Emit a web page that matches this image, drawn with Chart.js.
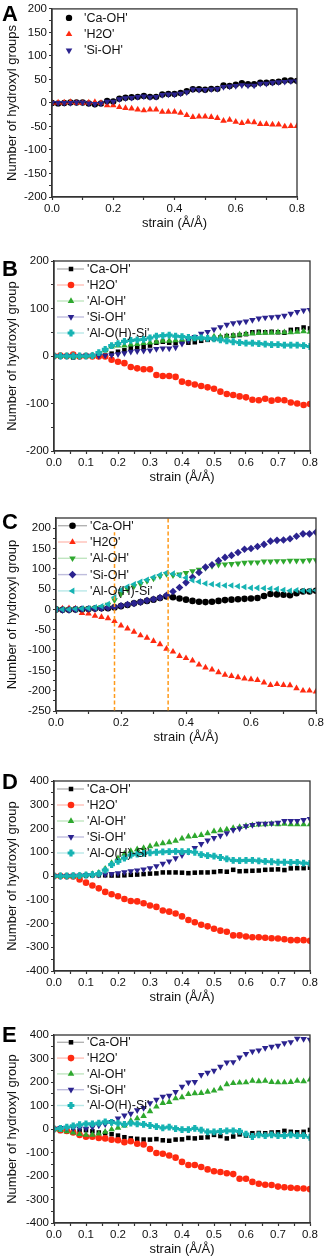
<!DOCTYPE html>
<html>
<head>
<meta charset="utf-8">
<script src="https://cdn.jsdelivr.net/npm/chart.js@4.4.0/dist/chart.umd.min.js"></script>
<style>
    body { margin: 0; width: 325px; height: 1260px; overflow: hidden; background: #fff; position: relative; font-family: "Liberation Sans", Arial, sans-serif; }
    canvas { position: absolute; left: 0; }
    .tag { position: absolute; left: 2px; font-size: 22px; line-height: 22px; font-weight: bold; color: #000; }
</style>
</head>
<body>
<canvas id="chartA" width="340" height="235" style="top:0px"></canvas>
<canvas id="chartB" width="340" height="249" style="top:240px"></canvas>
<canvas id="chartC" width="340" height="249" style="top:500px"></canvas>
<canvas id="chartD" width="340" height="249" style="top:760px"></canvas>
<canvas id="chartE" width="340" height="251" style="top:1010px"></canvas>
<div class="tag" style="top:3px">A</div>
<div class="tag" style="top:258px">B</div>
<div class="tag" style="top:511px">C</div>
<div class="tag" style="top:771px">D</div>
<div class="tag" style="top:1024px">E</div>
<script>
// Strain values (x axis), same for every panel
const strain = [0.00, 0.02, 0.04, 0.06, 0.08, 0.10, 0.12, 0.14, 0.16, 0.18,
                0.20, 0.22, 0.24, 0.26, 0.28, 0.30, 0.32, 0.34, 0.36, 0.38,
                0.40, 0.42, 0.44, 0.46, 0.48, 0.50, 0.52, 0.54, 0.56, 0.58,
                0.60, 0.62, 0.64, 0.66, 0.68, 0.70, 0.72, 0.74, 0.76, 0.78, 0.80];

// Tick labels
const xTicksWide = [0.0, 0.2, 0.4, 0.6, 0.8];
const xTicksFine = [0.0, 0.1, 0.2, 0.3, 0.4, 0.5, 0.6, 0.7, 0.8];
const yTicksA = [-200, -150, -100, -50, 0, 50, 100, 150, 200];
const yTicksB = [-200, -100, 0, 100, 200];
const yTicksC = [-250, -200, -150, -100, -50, 0, 50, 100, 150, 200];
const yTicksDE = [-400, -300, -200, -100, 0, 100, 200, 300, 400];

// Panel A
const aCaOH = [0,-1,0,1,1,1,-1,-3,-1,4, 3,9,11,12,13,15,13,13,18,19, 19,21,25,29,29,28,30,30,37,36, 39,42,40,40,43,43,44,45,48,48, 47];
const aH2O  = [0,1,1,2,0,0,1,2,0,-5, -5,-9,-11,-12,-14,-16,-14,-14,-19,-19, -19,-21,-26,-30,-29,-29,-30,-32,-38,-36, -40,-43,-40,-41,-45,-45,-46,-46,-50,-49, -49];
const aSiOH = [0,0,0,0,1,1,-1,-2,-1,3, 3,8,10,11,13,14,12,13,17,18, 18,20,23,29,28,28,29,30,34,35, 36,38,37,37,41,41,43,44,45,46, 46];

// Panel B
const bCaOH   = [0,-1,-1,-3,-1,0,0,0,1,5, 9,12,17,18,19,22,28,30,28,27, 30,28,29,32,34,36,39,42,43,44, 46,50,51,50,51,50,49,55,56,60, 58];
const bH2O    = [0,1,0,3,-1,0,-1,-1,-1,-8, -12,-15,-23,-26,-28,-28,-40,-42,-42,-44, -54,-57,-60,-63,-66,-69,-75,-80,-82,-85, -87,-92,-93,-90,-94,-92,-93,-98,-100,-103, -101];
const bAlOH   = [0,0,0,-1,0,0,1,5,12,20, 22,22,24,25,27,28,30,32,32,33, 34,35,37,38,39,41,41,42,43,45, 46,47,48,49,49,50,50,50,51,52, 51];
const bSiOH   = [0,0,0,0,0,1,1,0,1,2, 4,6,9,10,11,12,15,16,16,18, 26,33,40,47,51,56,61,66,69,71, 73,76,79,81,82,83,85,89,93,96, 97];
const bAlOHSi = [0,0,0,0,0,0,1,7,14,22, 26,31,33,34,35,38,42,43,44,42, 41,39,38,38,37,36,34,32,30,28, 27,27,26,25,24,24,23,23,23,22, 20];

// Panel C
const cCaOH   = [0,-1,-1,0,0,1,2,3,3,5, 8,11,15,18,21,24,28,32,30,27, 24,21,19,18,19,21,23,24,25,26, 27,28,33,38,37,36,35,40,44,44, 46];
const cH2O    = [0,2,3,2,-9,-10,-16,-19,-22,-29, -40,-47,-55,-64,-70,-78,-86,-97,-104,-115, -120,-126,-136,-143,-148,-155,-161,-164,-167,-170, -172,-174,-180,-186,-184,-186,-187,-194,-200,-200, -202];
const cAlOH   = [0,0,0,0,1,2,4,6,12,23, 38,50,57,63,70,76,82,87,84,86, 90,94,98,102,107,110,111,112,113,115, 116,116,118,118,119,119,120,120,120,121, 121];
const cSiOH   = [0,-1,-1,0,1,1,2,3,4,6, 9,12,15,18,22,25,29,35,44,54, 66,79,91,104,110,120,128,133,140,148, 150,155,160,168,170,171,174,180,186,186, 190];
const cAlOHSi = [0,0,0,1,2,3,5,8,13,30, 48,56,62,68,73,79,85,90,88,84, 78,72,68,64,62,60,59,59,57,55, 53,53,52,51,50,48,46,47,46,46, 47];
// Orange dashed guide lines in panel C
const cGuideX   = [0.18, 0.345];
const cGuideTop = [190, 225];
const cGuideBottom = -250;

// Panel D
const dCaOH   = [0,0,0,0,1,2,3,3,3,2, 2,3,5,6,8,10,11,15,15,15, 14,12,14,15,15,17,20,18,26,20, 21,22,23,26,27,28,25,32,33,33, 35];
const dH2O    = [0,0,-1,-2,-15,-28,-40,-52,-67,-77, -85,-97,-105,-107,-115,-124,-130,-145,-150,-158, -170,-185,-195,-205,-212,-222,-230,-235,-250,-250, -255,-258,-258,-260,-262,-263,-266,-270,-270,-270, -273];
const dAlOH   = [0,0,0,1,2,5,8,14,30,55, 75,93,105,112,118,125,132,138,142,148, 158,166,168,172,180,188,192,196,202,206, 210,214,216,218,220,218,220,218,218,217, 217];
const dSiOH   = [0,0,0,1,2,4,5,6,7,9, 12,16,20,24,28,33,42,52,62,75, 88,102,118,135,150,160,170,180,194,200, 210,215,220,220,222,225,232,232,232,236, 240];
const dAlOHSi = [0,0,0,1,2,4,6,10,25,48, 62,75,88,92,95,98,100,102,103,104, 103,103,100,90,86,84,78,72,66,65, 66,66,64,62,60,58,58,57,57,54, 53];

// Panel E
const eCaOH   = [0,-8,-9,-9,-8,-5,-10,-15,-18,-22, -28,-35,-40,-42,-45,-45,-43,-48,-50,-45, -44,-38,-40,-37,-35,-25,-30,-40,-32,-23, -28,-18,-17,-18,-15,-14,-8,-12,-14,-12, -4];
const eH2O    = [0,-5,-8,-15,-25,-33,-33,-38,-40,-46, -48,-56,-52,-63,-66,-85,-102,-105,-113,-122, -140,-153,-153,-162,-172,-180,-183,-188,-192,-212, -212,-225,-233,-237,-238,-245,-248,-250,-252,-253, -256];
const eAlOH   = [0,-5,-10,-15,-22,-25,-25,-20,-12,-2, 5,15,35,45,55,75,95,110,115,130, 135,148,152,153,158,163,172,190,195,197, 198,205,203,205,200,198,198,200,205,203, 210];
const eSiOH   = [0,5,5,3,3,2,8,15,20,30, 45,58,65,80,90,110,125,138,142,158, 180,198,200,230,240,248,265,283,285,305, 320,330,335,345,350,355,365,370,385,383, 380];
const eAlOHSi = [0,3,8,13,18,22,22,25,30,28, 25,20,25,22,20,15,10,5,8,2, -3,-3,3,-5,-12,-12,-10,-8,-8,-10, -22,-32,-25,-28,-25,-28,-28,-25,-28,-28, -35];

// Colours
const BLACK = '#000000';
const RED = '#ff2a10';
const GREEN = '#2ea82e';
const NAVY = '#2b238f';
const CYAN = '#16b3b3';
const ORANGE = '#ff9a1a';
const AXIS = '#333333';
const FONT = '"Liberation Sans", Arial, sans-serif';

// Build one marker series
function series(label, values, color, pointStyle, rotation, radius) {
    return {
        label: label,
        data: strain.map((x, i) => ({ x: x, y: values[i] })),
        showLine: false,
        pointStyle: pointStyle,
        rotation: rotation || 0,
        pointRadius: radius,
        pointHoverRadius: radius,
        pointBorderWidth: pointStyle === 'cross' ? 3.2 : 0,
        backgroundColor: color,
        borderColor: color,
        inLegend: true
    };
}

// Major ticks from the label list plus one minor tick between each pair
function tickSet(major) {
    const out = [];
    major.forEach((v, i) => {
        out.push({ value: v });
        if (i < major.length - 1) out.push({ value: (v + major[i + 1]) / 2 });
    });
    return out;
}
function isMajor(major, v) {
    return major.some(m => Math.abs(m - v) < 1e-6);
}

// Legend drawn inside the plot area, top-left
const insideLegend = {
    id: 'insideLegend',
    afterDraw(chart, args, opts) {
        const ctx = chart.ctx;
        const area = chart.chartArea;
        const items = chart.data.datasets.filter(d => d.inLegend);
        ctx.save();
        items.forEach((ds, i) => {
            const y = area.top + opts.y0 + i * opts.dy;
            if (opts.line) {
                ctx.globalAlpha = 0.3;
                ctx.strokeStyle = ds.borderColor;
                ctx.lineWidth = 1.4;
                ctx.beginPath();
                ctx.moveTo(area.left + opts.line[0], y);
                ctx.lineTo(area.left + opts.line[1], y);
                ctx.stroke();
                ctx.globalAlpha = 1;
            }
            ctx.fillStyle = ds.backgroundColor;
            ctx.strokeStyle = ds.borderColor;
            ctx.lineWidth = ds.pointBorderWidth;
            if (Chart.helpers && Chart.helpers.drawPoint) {
                Chart.helpers.drawPoint(ctx, {
                    pointStyle: ds.pointStyle,
                    rotation: ds.rotation,
                    radius: ds.pointRadius,
                    borderWidth: ds.pointBorderWidth
                }, area.left + opts.mx, y);
            }
            ctx.fillStyle = '#111';
            ctx.font = '12.5px ' + FONT;
            ctx.textBaseline = 'middle';
            ctx.textAlign = 'left';
            ctx.fillText(ds.label, area.left + opts.tx, y + 0.5);
        });
        ctx.restore();
    }
};

// Box round the plot area
const frame = {
    id: 'frame',
    afterDraw(chart) {
        const a = chart.chartArea;
        const ctx = chart.ctx;
        ctx.save();
        ctx.strokeStyle = AXIS;
        ctx.lineWidth = 1.3;
        ctx.strokeRect(a.left, a.top, a.right - a.left, a.bottom - a.top);
        ctx.restore();
    }
};

function makePanel(id, p) {
    // later series on top, like the original plot
    p.datasets.forEach((d, i) => { d.order = -i; });
    return new Chart(document.getElementById(id), {
        type: 'scatter',
        data: { datasets: p.datasets },
        plugins: [insideLegend, frame],
        options: {
            responsive: false,
            animation: false,
            events: [],
            layout: { padding: { left: 0, right: p.padRight, top: p.padTop, bottom: 0 } },
            plugins: {
                legend: { display: false },
                tooltip: { enabled: false },
                insideLegend: p.legend
            },
            scales: {
                x: {
                    type: 'linear',
                    min: 0,
                    max: 0.8,
                    afterBuildTicks: s => { s.ticks = tickSet(p.xTicks); },
                    ticks: {
                        padding: 2,
                        color: '#111',
                        autoSkip: false,
                        maxRotation: 0,
                        font: { family: FONT, size: 11.5 },
                        callback: v => (isMajor(p.xTicks, v) ? Number(v).toFixed(1) : '')
                    },
                    grid: { drawOnChartArea: false, tickLength: 3, color: AXIS, tickWidth: 1.2 },
                    border: { color: AXIS, width: 1.3 },
                    title: {
                        display: true,
                        text: 'strain (Å/Å)',
                        color: '#111',
                        font: { family: FONT, size: 13 },
                        padding: { top: 0, bottom: 4 }
                    },
                    afterFit: s => { s.height = 38; }
                },
                y: {
                    min: p.yMin,
                    max: p.yMax,
                    afterBuildTicks: s => { s.ticks = tickSet(p.yTicks); },
                    ticks: {
                        padding: 2,
                        color: '#111',
                        autoSkip: false,
                        font: { family: FONT, size: 11.5 },
                        callback: v => (isMajor(p.yTicks, v) ? v : '')
                    },
                    grid: { drawOnChartArea: false, tickLength: 3, color: AXIS, tickWidth: 1.2 },
                    border: { color: AXIS, width: 1.3 },
                    title: {
                        display: true,
                        text: p.yTitle,
                        color: '#111',
                        font: { family: FONT, size: 13 },
                        padding: { top: 5, bottom: 0 }
                    },
                    afterFit: s => { s.width = p.yWidth; }
                }
            }
        }
    });
}

const legendLong = { y0: 8, dy: 16, mx: 17, tx: 33, line: [3, 30] };

// A
makePanel('chartA', {
    datasets: [
        series("'Ca-OH'", aCaOH, BLACK, 'circle', 0, 3.2),
        series("'H2O'", aH2O, RED, 'triangle', 0, 3.8),
        series("'Si-OH'", aSiOH, NAVY, 'triangle', 180, 3.8)
    ],
    yMin: -200, yMax: 200, yTicks: yTicksA, xTicks: xTicksWide,
    yTitle: 'Number of hydroxyl groups', yWidth: 52,
    padTop: 6, padRight: 43,
    legend: { y0: 9, dy: 16.3, mx: 17, tx: 32, line: null }
});

// B
makePanel('chartB', {
    datasets: [
        series("'Ca-OH'", bCaOH, BLACK, 'rect', 0, 3.2),
        series("'H2O'", bH2O, RED, 'circle', 0, 3.3),
        series("'Al-OH'", bAlOH, GREEN, 'triangle', 0, 3.8),
        series("'Si-OH'", bSiOH, NAVY, 'triangle', 180, 3.8),
        series("'Al-O(H)-Si'", bAlOHSi, CYAN, 'cross', 0, 3.4)
    ],
    yMin: -200, yMax: 200, yTicks: yTicksB, xTicks: xTicksFine,
    yTitle: 'Number of hydroxyl group', yWidth: 54,
    padTop: 21, padRight: 30,
    legend: legendLong
});

// C
const cSets = [
    series("'Ca-OH'", cCaOH, BLACK, 'circle', 0, 3.3),
    series("'H2O'", cH2O, RED, 'triangle', 0, 3.8),
    series("'Al-OH'", cAlOH, GREEN, 'triangle', 180, 3.8),
    series("'Si-OH'", cSiOH, NAVY, 'rectRot', 0, 3.8),
    series("'Al-O(H)-Si'", cAlOHSi, CYAN, 'triangle', 270, 3.8)
];
cGuideX.forEach((gx, i) => {
    cSets.push({
        label: 'guide' + i,
        data: [{ x: gx, y: cGuideBottom }, { x: gx, y: cGuideTop[i] }],
        showLine: true,
        pointRadius: 0,
        borderColor: ORANGE,
        borderWidth: 1.5,
        borderDash: [4, 2.5],
        inLegend: false
    });
});
makePanel('chartC', {
    datasets: cSets,
    yMin: -250, yMax: 225, yTicks: yTicksC, xTicks: xTicksWide,
    yTitle: 'Number of hydroxyl group', yWidth: 56,
    padTop: 18, padRight: 24,
    legend: { y0: 7.7, dy: 16.3, mx: 16.5, tx: 34, line: [2, 31] }
});

// D
makePanel('chartD', {
    datasets: [
        series("'Ca-OH'", dCaOH, BLACK, 'rect', 0, 3.2),
        series("'H2O'", dH2O, RED, 'circle', 0, 3.3),
        series("'Al-OH'", dAlOH, GREEN, 'triangle', 0, 3.8),
        series("'Si-OH'", dSiOH, NAVY, 'triangle', 180, 3.8),
        series("'Al-O(H)-Si'", dAlOHSi, CYAN, 'cross', 0, 3.4)
    ],
    yMin: -400, yMax: 400, yTicks: yTicksDE, xTicks: xTicksFine,
    yTitle: 'Number of hydroxyl group', yWidth: 54,
    padTop: 21, padRight: 30,
    legend: legendLong
});

// E
makePanel('chartE', {
    datasets: [
        series("'Ca-OH'", eCaOH, BLACK, 'rect', 0, 3.2),
        series("'H2O'", eH2O, RED, 'circle', 0, 3.3),
        series("'Al-OH'", eAlOH, GREEN, 'triangle', 0, 3.8),
        series("'Si-OH'", eSiOH, NAVY, 'triangle', 180, 3.8),
        series("'Al-O(H)-Si'", eAlOHSi, CYAN, 'cross', 0, 3.4)
    ],
    yMin: -400, yMax: 400, yTicks: yTicksDE, xTicks: xTicksFine,
    yTitle: 'Number of hydroxyl group', yWidth: 54,
    padTop: 25, padRight: 30,
    legend: { y0: 7.3, dy: 15.8, mx: 17, tx: 33, line: [3, 30] }
});
</script>
</body>
</html>
